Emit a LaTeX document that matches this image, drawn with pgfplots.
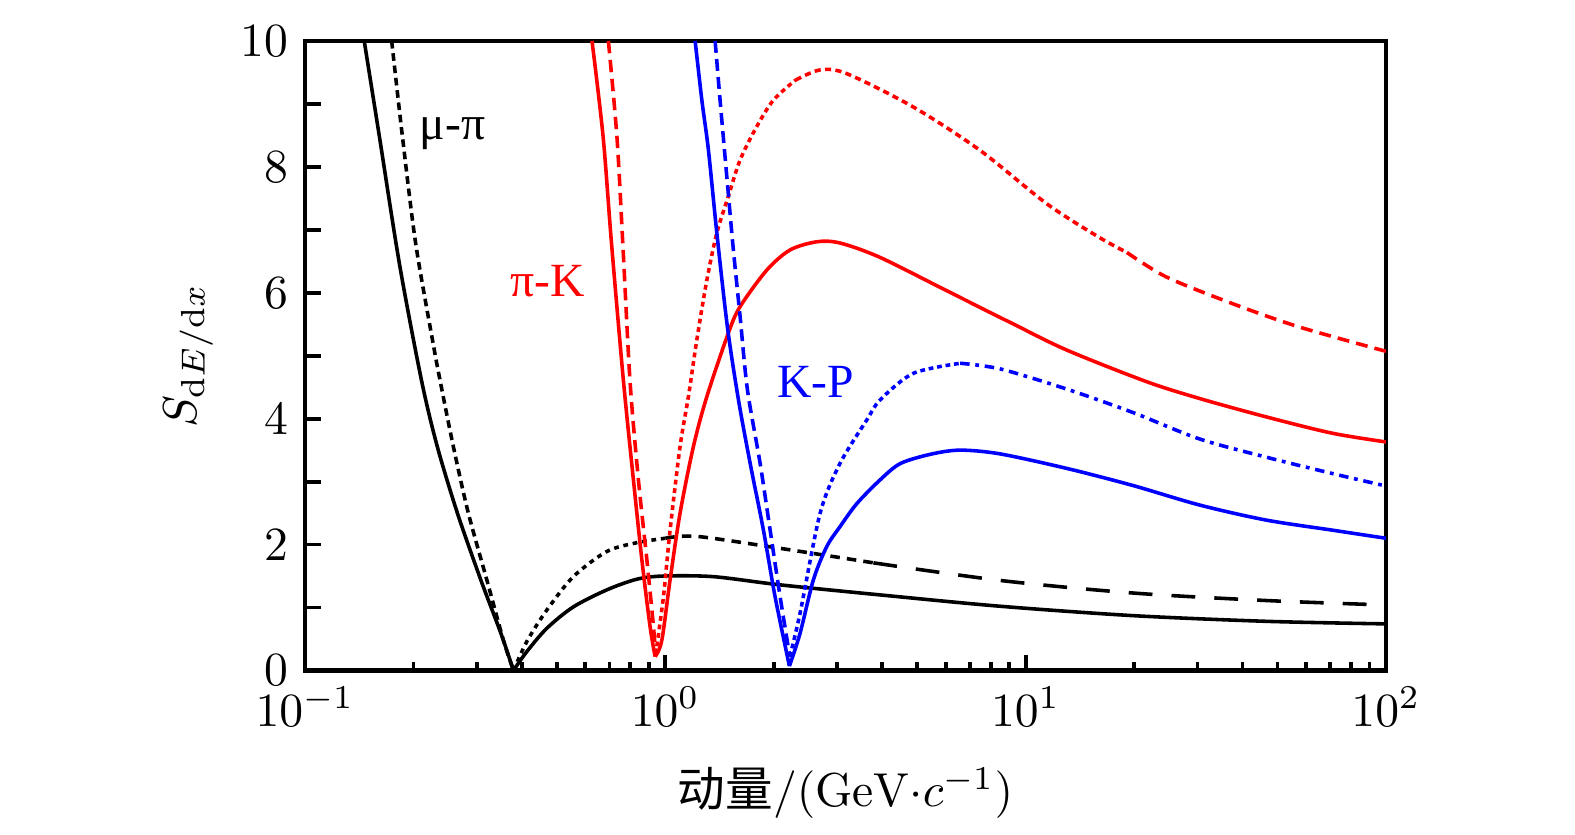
\documentclass[border=0pt]{standalone}
\usepackage{fontspec}
\usepackage{pgfplots}
\pgfplotsset{compat=1.18}
\newfontfamily\cjk{Noto Sans CJK SC}
\newfontfamily\libs{Liberation Serif}
\begin{document}
\begin{tikzpicture}
\begin{axis}[
  scale only axis,
  width=227.0pt, height=132.2pt,
  xmode=log, log basis x=10,
  xmin=0.1, xmax=100, ymin=0, ymax=10,
  ytick={0,1,...,10},
  yticklabels={0,{},2,{},4,{},6,{},8,{},10},
  tick pos=left,
  tick align=inside,
  major tick length=3.3pt,
  minor tick length=1.7pt,
  every tick/.style={black, line width=0.8pt},
  axis line style={line width=0.95pt},
  xlabel={{\cjk 动量}$/(\mathrm{GeV}{\cdot}c^{-1})$},
  ylabel={$S_{\mathrm{d}E/\mathrm{d}x}$},
  xlabel style={at={(axis description cs:0.5,-0.195)}, anchor=center},
  ylabel style={at={(axis description cs:-0.108,0.5)}, anchor=center},
  every axis plot/.append style={line width=0.75pt, smooth, tension=0.5},
  clip=true,
]
% black solid
\addplot[black] coordinates {(0.146,10) (0.161,8.47) (0.183,6.45) (0.2105,4.61) (0.2328,3.56) (0.2648,2.50) (0.3075,1.44) (0.3497,0.59) (0.379,0)};
\addplot[black] coordinates {(0.379,0) (0.4127,0.30) (0.469,0.67) (0.5556,1.01) (0.688,1.28) (0.834,1.45) (0.988,1.50) (1.36,1.49) (2.083,1.36) (3.95,1.20) (8.5,1.02) (20,0.87) (47,0.78) (100,0.74)};
% black dashed
\addplot[black, dash pattern=on 1.6pt off 1.0pt] coordinates {(0.174,10) (0.1865,8.47) (0.203,6.77) (0.228,5.12) (0.237,4.61) (0.258,3.56) (0.284,2.50) (0.3196,1.44) (0.3554,0.48) (0.379,0)};
\addplot[black, dash pattern=on 1pt off 1pt] coordinates {(0.379,0) (0.4127,0.46) (0.469,0.96) (0.5556,1.49) (0.688,1.89) (0.834,2.03) (1.0,2.10)};
\addplot[black, dash pattern=on 2pt off 1.5pt] coordinates {(1.0,2.10) (1.223,2.13) (2.083,1.94) (3.78,1.71)};
\addplot[black, dash pattern=on 5pt off 4pt] coordinates {(3.78,1.71) (8.5,1.43) (19.9,1.23) (47,1.11) (100,1.04)};
% red solid
\addplot[red] coordinates {(0.626,10) (0.672,8.48) (0.709,6.79) (0.765,4.61) (0.8155,3.03) (0.861,1.755) (0.907,0.70) (0.937,0.22)};
\addplot[red] coordinates {(0.937,0.22) (0.978,0.48) (1.031,1.44) (1.099,2.50) (1.197,3.56) (1.304,4.35) (1.496,5.36) (1.613,5.78) (1.913,6.36) (2.22,6.68) (2.634,6.81) (3.055,6.79) (3.95,6.56) (6.05,6.03) (9.27,5.50) (13.0,5.09) (21.6,4.59) (30.4,4.32) (46.4,4.03) (70.8,3.77) (100,3.63)};
% red dashed
\addplot[red, dash pattern=on 2.6pt off 1.4pt] coordinates {(0.695,10) (0.734,8.48) (0.762,6.79) (0.798,4.61) (0.842,3.03) (0.889,1.755) (0.927,0.70) (0.94,0.25)};
\addplot[red, dash pattern=on 1pt off 0.8pt] coordinates {(0.94,0.25) (0.988,1.17) (1.031,2.23) (1.099,3.56) (1.159,4.35) (1.223,5.25) (1.304,6.20) (1.39,6.95) (1.496,7.53) (1.613,8.11) (1.794,8.64) (1.996,9.06) (2.3,9.38)};
\addplot[red, dash pattern=on 1.3pt off 0.9pt] coordinates {(2.3,9.38) (2.69,9.54) (3.19,9.48) (4.88,8.95) (7.48,8.26) (11.47,7.41) (16.0,6.88) (19.1,6.64)};
\addplot[red, dash pattern=on 2.5pt off 1.5pt] coordinates {(19.1,6.64) (24.6,6.25) (37.4,5.83) (57.2,5.46) (100,5.07)};
% blue solid
\addplot[blue] coordinates {(1.21,10) (1.263,9.06) (1.317,8.27) (1.39,6.95) (1.487,5.46) (1.596,4.30) (1.72,3.29) (1.872,2.23) (2.017,1.17) (2.21,0.07)};
\addplot[blue] coordinates {(2.21,0.07) (2.366,0.59) (2.576,1.44) (2.807,1.97) (3.05,2.28) (3.4,2.65) (3.95,3.03) (4.5,3.29) (5.5,3.44) (6.6,3.50) (8.5,3.44) (13.0,3.21) (19.8,2.94) (30.3,2.63) (46.4,2.39) (70.8,2.23) (100,2.10)};
% blue dashed
\addplot[blue, dash pattern=on 2.5pt off 1.3pt] coordinates {(1.375,10) (1.419,9.06) (1.487,7.74) (1.545,6.68) (1.613,5.62) (1.69,4.46) (1.833,3.29) (1.954,2.23) (2.083,1.17) (2.216,0.22)};
\addplot[blue, dash pattern=on 1pt off 0.8pt] coordinates {(2.216,0.22) (2.366,0.91) (2.69,2.50) (3.055,3.29) (3.625,3.98) (3.95,4.30) (4.88,4.72) (6.58,4.88)};
\addplot[blue, dash pattern=on 2pt off 1.2pt on 0.8pt off 1.2pt] coordinates {(6.58,4.88) (8.5,4.79) (13.0,4.47) (19.8,4.10) (30.3,3.68) (46.4,3.39) (70.8,3.13) (100,2.93)};
% labels
\node[black] at (axis cs:0.2565,8.53) {\libs μ-π};
\node[red] at (axis cs:0.4716,6.19) {\libs π-K};
\node[blue] at (axis cs:2.61,4.59) {\libs K-P};
\end{axis}
\path ([xshift=-64.05pt,yshift=-32.87pt]current axis.south west) rectangle ([xshift=266.7pt,yshift=140.8pt]current axis.south west);
\end{tikzpicture}
\end{document}
